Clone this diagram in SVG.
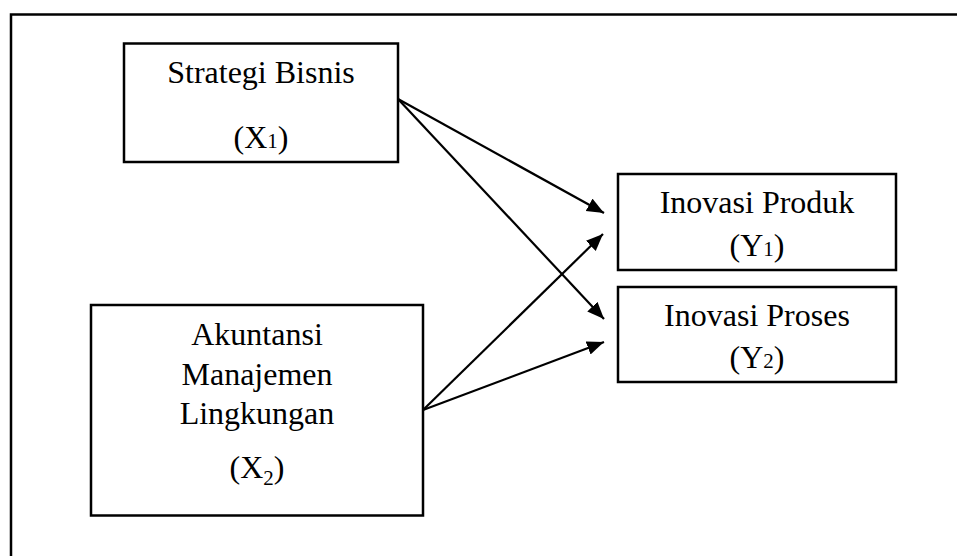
<svg xmlns="http://www.w3.org/2000/svg" width="957" height="556" viewBox="0 0 957 556">
  <style>
    .box { fill: #ffffff; stroke: #000000; stroke-width: 2.5; }
    .lbl { font-family: "Liberation Serif", "Times New Roman", serif; font-size: 32px; fill: #000000; text-anchor: middle; }
    .sub { font-size: 21px; }
    .conn { stroke: #000000; stroke-width: 2.2; fill: none; marker-end: url(#arrow); }
    .frame { stroke: #000000; stroke-width: 2.5; fill: none; }
  </style>
  <defs>
    <marker id="arrow" markerUnits="userSpaceOnUse" markerWidth="18" markerHeight="15" refX="17" refY="7" orient="auto">
      <path d="M0,0 L17,7 L0,14 z" fill="#000000"/>
    </marker>
  </defs>
  <rect width="957" height="556" fill="#ffffff"/>
  <path class="frame" d="M11,556 L11,14.5 L957,14.5"/>

  <g id="node-strategi">
    <rect class="box" x="124" y="43.5" width="274" height="118.5"/>
    <text class="lbl" x="261" y="83">Strategi Bisnis</text>
    <text class="lbl" x="261" y="148">(X<tspan class="sub">1</tspan>)</text>
  </g>

  <g id="node-akuntansi">
    <rect class="box" x="91" y="305" width="332" height="210.5"/>
    <text class="lbl" x="257" y="345">Akuntansi</text>
    <text class="lbl" x="257" y="385">Manajemen</text>
    <text class="lbl" x="257" y="424">Lingkungan</text>
    <text class="lbl" x="257" y="478">(X<tspan class="sub" dy="7">2</tspan><tspan dy="-7">)</tspan></text>
  </g>

  <g id="node-produk">
    <rect class="box" x="618" y="174" width="278" height="96"/>
    <text class="lbl" x="757" y="213">Inovasi Produk</text>
    <text class="lbl" x="757" y="256">(Y<tspan class="sub">1</tspan>)</text>
  </g>

  <g id="node-proses">
    <rect class="box" x="618" y="287" width="278" height="95"/>
    <text class="lbl" x="757" y="326">Inovasi Proses</text>
    <text class="lbl" x="757" y="368">(Y<tspan class="sub">2</tspan>)</text>
  </g>

  <g id="connectors">
    <line class="conn" x1="398" y1="99" x2="604" y2="213"/>
    <line class="conn" x1="398" y1="99" x2="604" y2="319"/>
    <line class="conn" x1="423" y1="410" x2="603" y2="234"/>
    <line class="conn" x1="423" y1="410" x2="604" y2="342"/>
  </g>
</svg>
